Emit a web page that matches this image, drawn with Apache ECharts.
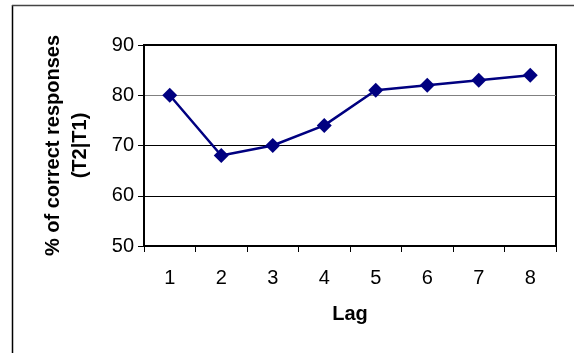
<!DOCTYPE html>
<html>
<head>
<meta charset="utf-8">
<script src="https://cdn.jsdelivr.net/npm/echarts@6/dist/echarts.min.js"></script>
<style>
html,body{margin:0;padding:0;background:#fff;}
#c{width:574px;height:353px;}
</style>
</head>
<body>
<div id="c"></div>
<script>
const categories = ['1','2','3','4','5','6','7','8'];
const values = [80, 68, 70, 74, 81, 82, 83, 84];
const yTicks = [50, 60, 70, 80, 90];
const xTitle = 'Lag';
const yTitle = '% of correct responses\n(T2|T1)';

const chart = echarts.init(document.getElementById('c'), null, {renderer: 'canvas'});
const font = 'Liberation Sans, Arial, sans-serif';
chart.setOption({
  animation: false,
  backgroundColor: '#fff',
  grid: {left: 144, top: 45, right: 18, bottom: 107, show: true, borderColor: '#000', borderWidth: 2, backgroundColor: 'transparent'},
  graphic: [
    {type: 'line', shape: {x1: 12.5, y1: 5, x2: 12.5, y2: 353}, style: {stroke: '#000', lineWidth: 1.5}},
    {type: 'line', shape: {x1: 12, y1: 5.5, x2: 574, y2: 5.5}, style: {stroke: '#444', lineWidth: 1.5}}
  ],
  xAxis: {
    type: 'category',
    data: categories,
    boundaryGap: true,
    name: xTitle,
    nameLocation: 'middle',
    nameGap: 58,
    nameTextStyle: {fontFamily: font, fontSize: 20, fontWeight: 'bold', color: '#000'},
    axisLine: {lineStyle: {color: '#000', width: 2}},
    axisTick: {show: true, length: 6, inside: false, lineStyle: {color: '#000', width: 1}},
    axisLabel: {fontFamily: font, fontSize: 20, color: '#000', margin: 22},
    splitLine: {show: false}
  },
  yAxis: {
    type: 'value',
    min: yTicks[0],
    max: yTicks[yTicks.length - 1],
    interval: 10,
    name: yTitle,
    nameLocation: 'middle',
    nameGap: 50,
    nameRotate: 90,
    nameTextStyle: {fontFamily: font, fontSize: 20, fontWeight: 'bold', color: '#000', lineHeight: 27},
    axisLine: {show: true, lineStyle: {color: '#000', width: 2}},
    axisTick: {show: true, length: 6, lineStyle: {color: '#000', width: 1}},
    axisLabel: {fontFamily: font, fontSize: 20, color: '#000', margin: 10},
    splitLine: {show: true, lineStyle: {color: ['#000', '#000', '#000', '#808080', '#000'], width: 1}}
  },
  series: [{
    type: 'line',
    data: values,
    symbol: 'diamond',
    symbolSize: 15,
    lineStyle: {color: '#000080', width: 2.5},
    itemStyle: {color: '#000080'}
  }]
});
</script>
</body>
</html>
